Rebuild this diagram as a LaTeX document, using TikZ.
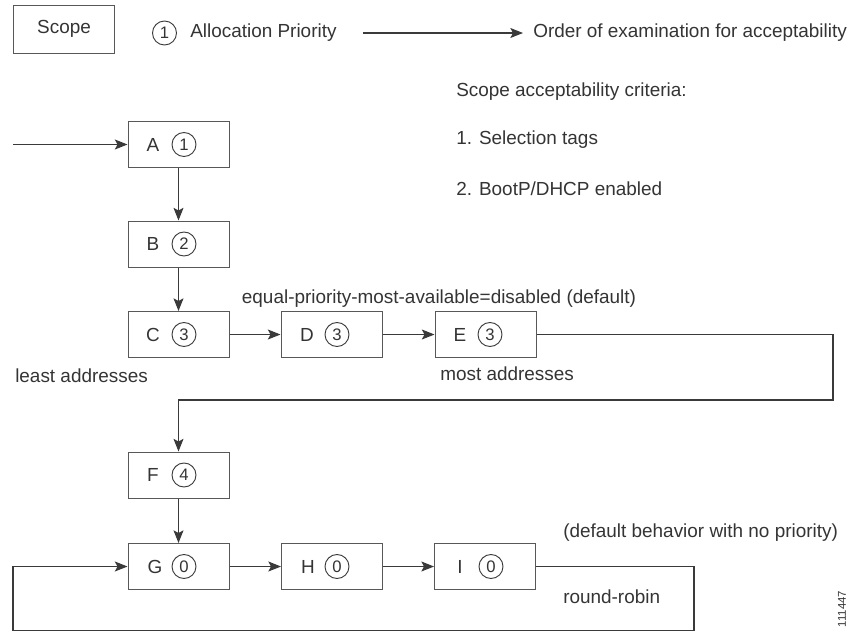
\documentclass[tikz,border=0pt]{standalone}
\usepackage{fontspec}
\setmainfont{Liberation Sans}
\usetikzlibrary{arrows.meta}
\definecolor{ink}{HTML}{3A3A3A}
\begin{document}
\begin{tikzpicture}[x=0.75pt,y=-0.75pt,
  every node/.style={font=\fontsize{14.2}{16}\selectfont,text=ink!90!black},
  scopebox/.style={draw=ink!85,line width=0.75pt,minimum width=75.75pt,minimum height=34.5pt,inner sep=0pt},
  prio/.style={draw=ink,circle,line width=0.7pt,minimum size=18pt,inner sep=0pt,font=\fontsize{12.5}{13}\selectfont},
  lbl/.style={anchor=west,inner sep=0pt},
  conn/.style={draw=ink,line width=0.8pt},
  arr/.style={conn,-{Stealth[length=9.5pt,width=7.5pt,inset=2pt]}}]
\useasboundingbox (0,0) rectangle (856,633);
% legend
\node[scopebox,minimum height=36pt] (legscope) at (64,29) {Scope};
\node[prio] (legprio) at (164.5,33) {1};
\node[lbl] (legprioT) at (190,33) {Allocation Priority};
\coordinate (legS) at (363,33);
\node[lbl] (legorder) at (533,33) {Order of examination for acceptability};
\draw[arr] (legS) -- ([xshift=-7.5pt]legorder.west);
% criteria
\node[lbl] (crit) at (456,92) {Scope acceptability criteria:};
\node[lbl] (crit1) at (456,140) {1. Selection tags};
\node[lbl] (crit2) at (456,189) {2. BootP/DHCP enabled};
% boxes
\node[scopebox] (A) at (178.5,144.5) {};
\node[scopebox] (B) at (178.5,244) {};
\node[scopebox] (C) at (178.5,334.5) {};
\node[scopebox] (D) at (331.5,334.5) {};
\node[scopebox] (E) at (485.5,334.5) {};
\node[scopebox] (F) at (178.5,475) {};
\node[scopebox] (G) at (178.5,566.5) {};
\node[scopebox] (H) at (332,566.5) {};
\node[scopebox] (I) at (485,566.5) {};
% box contents
\node (Al) at (153,144.5) {A};  \node[prio] (Ap) at (184,144.5) {1};
\node (Bl) at (153,244) {B};  \node[prio] (Bp) at (184,244) {2};
\node (Cl) at (153,334.5) {C};  \node[prio] (Cp) at (184,334.5) {3};
\node (Dl) at (307,334.5) {D};  \node[prio] (Dp) at (337,334.5) {3};
\node (El) at (460,334.5) {E};  \node[prio] (Ep) at (490,334.5) {3};
\node (Fl) at (153,475) {F};  \node[prio] (Fp) at (184,475) {4};
\node (Gl) at (155,566.5) {G};  \node[prio] (Gp) at (184,566.5) {0};
\node (Hl) at (308,566.5) {H};  \node[prio] (Hp) at (337,566.5) {0};
\node (Il) at (460,566.5) {I};  \node[prio] (Ip) at (491,566.5) {0};
% labels
\node (eqp) at (439,299) {equal-priority-most-available=disabled (default)};
\node[lbl] (least) at (15,376) {least addresses};
\node[lbl] (most) at (440,374) {most addresses};
\node[lbl] (defb) at (563,533) {(default behavior with no priority)};
\node[lbl] (rr) at (563,597) {round-robin};
\node[rotate=90,font=\fontsize{8.5}{9}\selectfont] (num) at (842,609) {111447};
% connectors
\coordinate (in) at (13,144.5);
\draw[arr] (in) -- (A.west);
\draw[arr] (A.south) -- (B.north);
\draw[arr] (B.south) -- (C.north);
\draw[arr] (C.east) -- (D.west);
\draw[arr] (D.east) -- (E.west);
\coordinate (er) at (833,334.5);
\coordinate (eb) at (833,400);
\coordinate (fb) at (178.5,400);
\draw[arr] (E.east) -- (er) -- (eb) -- (fb) -- (F.north);
\draw[arr] (F.south) -- (G.north);
\draw[arr] (G.east) -- (H.west);
\draw[arr] (H.east) -- (I.west);
\coordinate (ir) at (694,566.5);
\coordinate (ib) at (694,630.5);
\coordinate (lb) at (13,630.5);
\coordinate (lt) at (13,566.5);
\draw[arr] (I.east) -- (ir) -- (ib) -- (lb) -- (lt) -- (G.west);
\end{tikzpicture}
\end{document}
